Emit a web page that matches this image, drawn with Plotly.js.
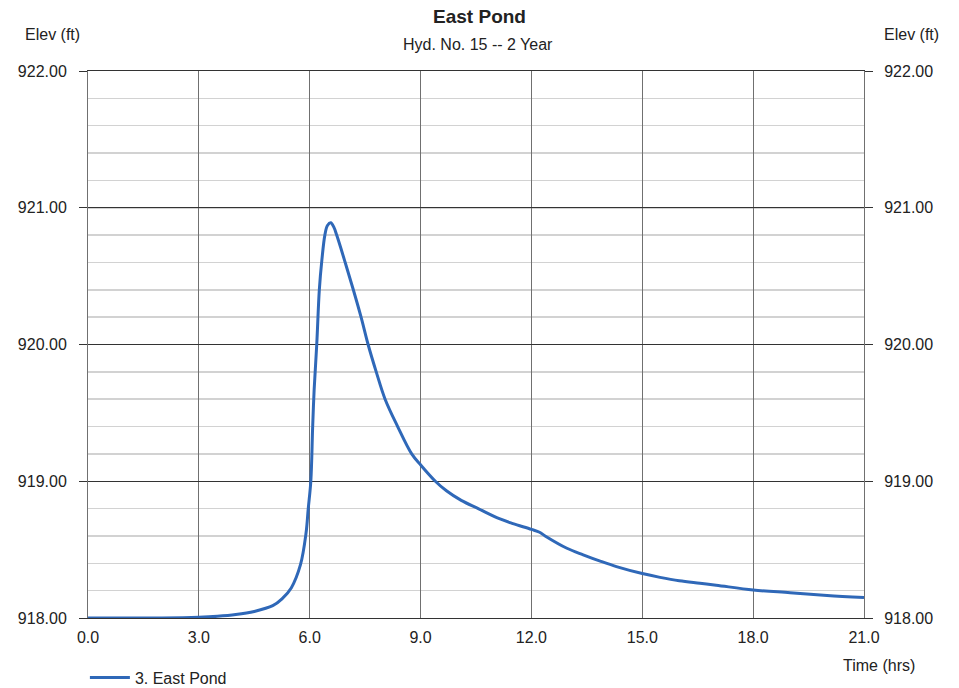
<!DOCTYPE html>
<html>
<head>
<meta charset="utf-8">
<script src="https://cdn.plot.ly/plotly-3.0.1.min.js"></script>
<style>html,body{margin:0;padding:0;background:#fff;}#chart{width:959px;height:688px;}</style>
</head>
<body>
<div id="chart"></div>
<script>
// Data
const timeHrs = [0, 1, 2, 3, 3.5, 4, 4.5, 5, 5.25, 5.5, 5.75, 5.9, 5.96, 6.03, 6.08, 6.12, 6.19, 6.26, 6.33, 6.41, 6.48, 6.57, 6.65, 6.73, 6.96, 7.18, 7.39, 7.58, 7.8, 8.04, 8.38, 8.76, 9.0, 9.4, 9.7, 10.1, 10.56, 11.15, 11.5, 12.0, 12.22, 12.37, 12.96, 13.4, 13.86, 14.3, 15.0, 15.48, 16.0, 16.56, 17.0, 18.0, 19.0, 20.0, 21.0];
const elevFt  = [918.0, 918.0, 918.0, 918.005, 918.012, 918.025, 918.048, 918.09, 918.14, 918.22, 918.39, 918.62, 918.8, 919.0, 919.4, 919.67, 920.0, 920.4, 920.62, 920.8, 920.87, 920.89, 920.86, 920.8, 920.6, 920.4, 920.2, 920.0, 919.8, 919.6, 919.4, 919.2, 919.12, 919.0, 918.93, 918.86, 918.8, 918.724, 918.69, 918.648, 918.627, 918.6, 918.51, 918.462, 918.416, 918.376, 918.325, 918.297, 918.272, 918.254, 918.24, 918.205, 918.185, 918.165, 918.149];
const seriesName = '3. East Pond';
const xTicks = [0, 3, 6, 9, 12, 15, 18, 21];
const xTickLabels = ['0.0', '3.0', '6.0', '9.0', '12.0', '15.0', '18.0', '21.0'];
const yTicks = [918, 919, 920, 921, 922];
const yTickLabels = ['918.00', '919.00', '920.00', '921.00', '922.00'];

const FONT = 'Liberation Sans, Arial, Helvetica, sans-serif';
const TXT = '#222222';
const FS = 16;

const traces = [
  {
    x: timeHrs, y: elevFt, type: 'scatter', mode: 'lines', name: seriesName,
    line: {color: '#2f68b8', width: 3, shape: 'spline', smoothing: 1},
    hoverinfo: 'skip'
  },
  {
    x: timeHrs, y: elevFt, type: 'scatter', mode: 'none', yaxis: 'y2',
    showlegend: false, hoverinfo: 'skip'
  }
];

const layout = {
  width: 959, height: 688,
  margin: {l: 88, r: 95, t: 71, b: 70, autoexpand: false},
  paper_bgcolor: '#ffffff', plot_bgcolor: '#ffffff',
  font: {family: FONT, size: FS, color: TXT},
  showlegend: true,
  legend: {
    x: -0.004, xanchor: 'left', y: -0.0777, yanchor: 'top',
    orientation: 'h', bgcolor: 'rgba(0,0,0,0)', itemwidth: 40,
    font: {family: FONT, size: FS, color: TXT}
  },
  title: {
    text: '<b>East Pond</b>', x: 0.5, xref: 'container', xanchor: 'center',
    y: 0.976, yanchor: 'middle', yref: 'container',
    font: {family: FONT, size: 19, color: TXT}
  },
  xaxis: {
    range: [0, 21], tickvals: xTicks, ticktext: xTickLabels,
    ticks: '', showgrid: true, gridcolor: '#707070', gridwidth: 1,
    showline: true, mirror: true, linecolor: '#333333', linewidth: 1,
    zeroline: false, ticklabelstandoff: 5,
    tickfont: {family: FONT, size: FS, color: TXT}
  },
  yaxis: {
    range: [918, 922], tickvals: yTicks, ticktext: yTickLabels,
    ticks: 'outside', ticklen: 8, tickcolor: '#333333', tickwidth: 1,
    showgrid: true, gridcolor: '#333333', gridwidth: 1,
    minor: {dtick: 0.2, showgrid: true, gridcolor: '#d2d2d2', gridwidth: 1.5, ticks: ''},
    showline: true, mirror: true, linecolor: '#707070', linewidth: 1,
    zeroline: false, ticklabelstandoff: 9,
    tickfont: {family: FONT, size: FS, color: TXT}
  },
  yaxis2: {
    overlaying: 'y', side: 'right', range: [918, 922],
    tickvals: yTicks, ticktext: yTickLabels,
    ticks: 'outside', ticklen: 8, tickcolor: '#333333', tickwidth: 1,
    showgrid: false, showline: false, zeroline: false, ticklabelstandoff: 8,
    tickfont: {family: FONT, size: FS, color: TXT}
  },
  annotations: [
    {text: 'Hyd. No. 15 -- 2 Year', xref: 'paper', yref: 'paper', x: 0.503, y: 1.0, yshift: 27, xanchor: 'center', yanchor: 'middle', showarrow: false, font: {family: FONT, size: FS, color: TXT}},
    {text: 'Elev (ft)', xref: 'paper', yref: 'paper', x: 0, xshift: -36, y: 1.0, yshift: 37, xanchor: 'center', yanchor: 'middle', showarrow: false, font: {family: FONT, size: FS, color: TXT}},
    {text: 'Elev (ft)', xref: 'paper', yref: 'paper', x: 1, xshift: 47, y: 1.0, yshift: 37, xanchor: 'center', yanchor: 'middle', showarrow: false, font: {family: FONT, size: FS, color: TXT}},
    {text: 'Time (hrs)', xref: 'paper', yref: 'paper', x: 1, xshift: 15, y: 0, yshift: -47, xanchor: 'center', yanchor: 'middle', showarrow: false, font: {family: FONT, size: FS, color: TXT}}
  ]
};

Plotly.newPlot('chart', traces, layout, {staticPlot: true, displayModeBar: false});
</script>
</body>
</html>
